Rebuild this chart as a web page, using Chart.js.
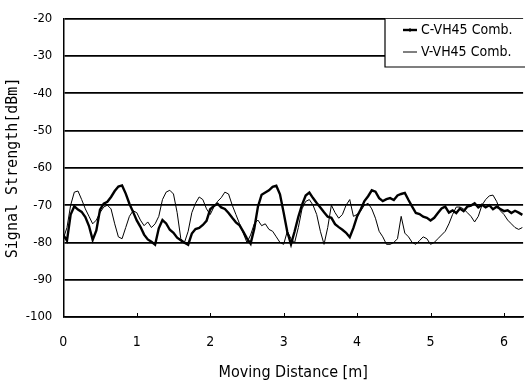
<!DOCTYPE html>
<html>
<head>
<meta charset="utf-8">
<script src="https://cdn.jsdelivr.net/npm/chart.js@4/dist/chart.umd.min.js"></script>
<style>
  html, body { margin: 0; padding: 0; background: #fff; }
  #wrap { width: 525px; height: 382px; }
</style>
</head>
<body>
<div id="wrap"><canvas id="chart"></canvas></div>
<script>
// ----------------- DATA -----------------
const seriesNames = ["C-VH45 Comb.", "V-VH45 Comb."];
const sampleStep = 0.05; // metres between samples
const xTicks = [0, 1, 2, 3, 4, 5, 6];
const yTicks = [-20, -30, -40, -50, -60, -70, -80, -90, -100];

// C-VH45 Comb. (heavy line), dBm
const cVH45 = [
  -78, -79.5, -72.5, -70.3, -71.2, -71.8, -73.2, -75.6, -79.3, -76.8,
  -71.2, -69.6, -69.1, -67.8, -66.2, -65.0, -64.7, -66.9, -69.6, -71.8,
  -74.1, -75.8, -77.9, -79.2, -79.8, -80.6, -76.2, -74.0, -74.9, -76.6,
  -77.4, -78.7, -79.4, -80.1, -80.6, -77.6, -76.4, -76.1, -75.3, -74.2,
  -71.1, -70.2, -69.6, -70.6, -71.0, -72.1, -73.4, -74.6, -75.4, -77.1,
  -78.9, -80.3, -76.3, -70.4, -67.2, -66.6, -66.0, -65.1, -64.8, -67.1,
  -72.0, -77.2, -80.5, -77.0, -73.1, -69.9, -67.4, -66.6, -68.1, -69.4,
  -70.6, -71.9, -73.1, -73.4, -75.1, -75.9, -76.6, -77.4, -78.6, -76.1,
  -73.0, -71.1, -68.9, -67.6, -66.0, -66.4, -68.1, -68.9, -68.4, -68.1,
  -68.6, -67.4, -67.0, -66.7, -68.6, -70.4, -72.1, -72.4, -73.1, -73.4,
  -74.1, -73.4, -72.1, -70.9, -70.4, -72.0, -71.4, -72.1, -70.9, -71.6,
  -70.4, -70.1, -69.5, -70.6, -69.9, -70.6, -70.0, -71.1, -70.4, -71.0,
  -71.6, -71.4, -72.1, -71.5, -72.0, -72.6
];

// V-VH45 Comb. (light line), dBm
const vVH45 = [
  -79, -76, -70, -66.5, -66.2, -68.5, -71, -73, -75, -74,
  -72, -70.5, -70, -71, -75, -78.5, -79, -76, -73, -71.5,
  -72, -74, -75.5, -74.5, -76, -75, -73, -68.5, -66.5, -66,
  -67, -72, -79, -80, -77, -72, -69.5, -67.8, -68.5, -71,
  -72.5, -70.5, -69, -68, -66.5, -67, -70, -72.5, -75, -77.5,
  -80, -78, -75, -74, -75.5, -75, -76.5, -77, -78.5, -80,
  -80.5, -77, -79, -80, -76, -71, -69, -68.5, -70, -72.5,
  -77, -80.5, -76, -70, -72, -73.5, -72.5, -70, -68.5, -73,
  -72.5, -71.5, -70, -69.5, -71, -73.5, -77, -78.5, -80.5, -80.5,
  -80, -79, -73, -77.5, -78.5, -80, -80.5, -79.5, -78.5, -79,
  -80.5, -80, -79, -78, -77, -75, -72.5, -70.5, -70.5, -71,
  -72, -73, -74.5, -73, -70, -68.5, -67.5, -67.3, -69, -71.5,
  -72.5, -74, -75, -76, -76.5, -76
];

const toPoints = arr => arr.map((v, i) => ({ x: +(i * sampleStep).toFixed(2), y: v }));

const narrow = "'Liberation Sans Narrow', 'DejaVu Sans Condensed', sans-serif";

// ----------------- PLUGINS -----------------
// legend box drawn inside the plot, top right
const boxLegend = {
  id: "boxLegend",
  afterDraw(chart) {
    const ctx = chart.ctx;
    const area = chart.chartArea;
    const left = 385, top = area.top, bottom = 67;
    ctx.save();
    ctx.fillStyle = "#fff";
    ctx.fillRect(left, top, chart.width - left, bottom - top);
    ctx.strokeStyle = "#000";
    ctx.lineWidth = 1.2;
    ctx.beginPath();
    ctx.moveTo(left, top);
    ctx.lineTo(left, bottom);
    ctx.lineTo(chart.width, bottom);
    ctx.stroke();
    ctx.font = "14px " + narrow;
    ctx.fillStyle = "#000";
    ctx.textBaseline = "middle";
    chart.data.datasets.forEach((ds, i) => {
      const y = 30 + i * 22;
      ctx.lineWidth = ds.borderWidth;
      ctx.beginPath();
      ctx.moveTo(403, y);
      ctx.lineTo(417, y);
      ctx.stroke();
      if (i === 0) {
        ctx.lineWidth = 1;
        ctx.beginPath();
        ctx.moveTo(410, y - 2);
        ctx.lineTo(410, y + 2);
        ctx.stroke();
      }
      ctx.fillText(ds.label, 421, y);
    });
    ctx.restore();
  }
};

// short tick marks pointing into the plot on the x axis
const innerTicks = {
  id: "innerTicks",
  afterDraw(chart) {
    const ctx = chart.ctx;
    const xs = chart.scales.x;
    const b = chart.chartArea.bottom;
    ctx.save();
    ctx.strokeStyle = "#000";
    ctx.lineWidth = 1;
    xTicks.forEach(t => {
      const px = Math.round(xs.getPixelForValue(t)) + 0.5;
      ctx.beginPath();
      ctx.moveTo(px, b);
      ctx.lineTo(px, b - 4);
      ctx.stroke();
    });
    ctx.restore();
  }
};

// ----------------- CHART -----------------
const ctx = document.getElementById("chart").getContext("2d");
new Chart(ctx, {
  type: "line",
  data: {
    datasets: [
      {
        label: seriesNames[0],
        data: toPoints(cVH45),
        borderColor: "#000",
        borderWidth: 2.4,
        pointRadius: 0,
        tension: 0,
      },
      {
        label: seriesNames[1],
        data: toPoints(vVH45),
        borderColor: "#000",
        borderWidth: 1,
        pointRadius: 0,
        tension: 0,
      }
    ]
  },
  options: {
    responsive: true,
    maintainAspectRatio: false,
    animation: false,
    layout: { padding: { top: 12, right: 0, left: 0, bottom: 0 } },
    plugins: {
      legend: { display: false },
      tooltip: { enabled: false },
    },
    scales: {
      x: {
        type: "linear",
        min: 0,
        max: 6.26,
        afterBuildTicks: s => { s.ticks = xTicks.map(v => ({ value: v })); },
        afterFit: s => { s.height = 65; },
        grid: { display: true, drawOnChartArea: false, drawTicks: false },
        border: { display: true, color: "#000", width: 1.5 },
        ticks: {
          color: "#000",
          font: { family: narrow, size: 14 },
          padding: 17,
          maxRotation: 0,
        },
        title: {
          display: true,
          text: "Moving Distance [m]",
          color: "#000",
          font: { family: narrow, size: 16 },
          padding: { top: 0, bottom: 0 },
        },
      },
      y: {
        min: -100,
        max: -20,
        afterBuildTicks: s => { s.ticks = yTicks.map(v => ({ value: v })); },
        afterFit: s => { s.width = 63.3; },
        grid: { color: "#000", lineWidth: 1.8, drawTicks: false },
        border: { display: true, color: "#000", width: 1.5 },
        ticks: {
          color: "#000",
          font: { family: narrow, size: 13 },
          padding: 11,
        },
        title: {
          display: true,
          text: "Signal Strength[dBm]",
          color: "#000",
          font: { family: "'DejaVu Sans Mono', monospace", size: 15 },
          padding: { top: 4, bottom: 0 },
        },
      },
    },
  },
  plugins: [boxLegend, innerTicks],
});
</script>
</body>
</html>
